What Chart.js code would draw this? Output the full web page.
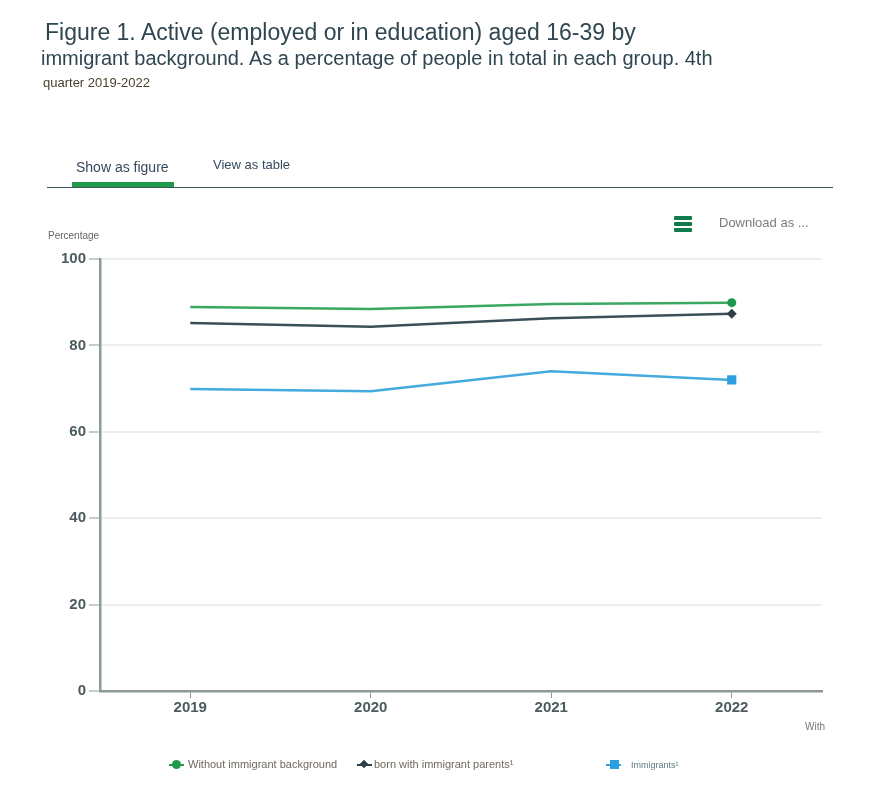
<!DOCTYPE html>
<html>
<head>
<meta charset="utf-8">
<script src="https://cdn.jsdelivr.net/npm/chart.js@4"></script>
<style>
  html, body { margin: 0; padding: 0; background: #fff; }
  body { width: 879px; height: 793px; position: relative; overflow: hidden; font-family: "Liberation Sans", Arial, sans-serif; }
  #chartWrap { position: absolute; left: 0; top: 0; width: 879px; height: 793px; }
  .txt { position: absolute; white-space: nowrap; line-height: 1; }
  .title1 { left: 45px; top: 21px; font-size: 23px; color: #2f4650; }
  .title2 { left: 41px; top: 48px; font-size: 20px; color: #2f4650; }
  .title3 { left: 43px; top: 76px; font-size: 13px; color: #4a3f2c; }
  .tab1 { left: 76px; top: 160px; font-size: 14px; color: #34495e; }
  .tab2 { left: 213px; top: 158px; font-size: 13px; color: #34495e; }
  .tabLine { position: absolute; left: 47px; top: 187px; width: 786px; height: 1px; background: #3f5358; }
  .tabActive { position: absolute; left: 72px; top: 182px; width: 102px; height: 5px; background: #1f9a4b; }
  .menu { position: absolute; left: 674px; width: 18px; height: 4px; background: #0f7a4a; border-radius: 1px; }
  .download { left: 719px; top: 216px; font-size: 13px; color: #7a7a7a; }
  .yTitle { left: 48px; top: 231px; font-size: 10px; color: #666; }
  .xNote { left: 805px; top: 722px; font-size: 10px; color: #777; }
  .legLine { position: absolute; height: 2px; width: 15px; top: 764px; }
  .legMark { position: absolute; }
</style>
</head>
<body>
<div id="chartWrap"><canvas id="activeChart"></canvas></div>

<div class="txt title1">Figure 1. Active (employed or in education) aged 16-39 by</div>
<div class="txt title2">immigrant background. As a percentage of people in total in each group. 4th</div>
<div class="txt title3">quarter 2019-2022</div>

<div class="txt tab1">Show as figure</div>
<div class="txt tab2">View as table</div>
<div class="tabLine"></div>
<div class="tabActive"></div>

<div class="menu" style="top:216px"></div>
<div class="menu" style="top:222px"></div>
<div class="menu" style="top:228px"></div>
<div class="txt download">Download as ...</div>

<div class="txt yTitle">Percentage</div>
<div class="txt xNote">With</div>

<div class="legLine" style="left:169px;background:#1f9a4b"></div>
<div class="legMark" style="left:172px;top:760px;width:9px;height:9px;border-radius:50%;background:#1f9a4b"></div>
<div class="txt" style="left:188px;top:759px;font-size:11px;color:#6f6a5c">Without immigrant background</div>

<div class="legLine" style="left:357px;background:#2f3f4a"></div>
<div class="legMark" style="left:361px;top:761px;width:6px;height:6px;transform:rotate(45deg);background:#2f3f4a"></div>
<div class="txt" style="left:374px;top:759px;font-size:11px;color:#6f6a5c">born with immigrant parents¹</div>

<div class="legLine" style="left:606px;background:#2b9fe0"></div>
<div class="legMark" style="left:610px;top:760px;width:9px;height:9px;background:#2b9fe0"></div>
<div class="txt" style="left:631px;top:761px;font-size:9px;color:#5f7a80">Immigrants¹</div>

<script>
// ── Data ──
const years = ['2019', '2020', '2021', '2022'];
const withoutBackground = [88.9, 88.4, 89.6, 89.9];
const bornToImmigrants = [85.2, 84.3, 86.3, 87.3];
const immigrants = [69.9, 69.4, 74.0, 72.0];
const yTicks = [0, 20, 40, 60, 80, 100];

// only the last point of each line carries a marker
const lastPoint = (size) => (c) => c.dataIndex === years.length - 1 ? size : 0;

function lineSet(label, data, color, lineColor, style, size) {
  return {
    label, data,
    borderColor: lineColor,
    backgroundColor: color,
    borderWidth: 2.5,
    tension: 0,
    pointStyle: style,
    pointBorderWidth: 0,
    pointRadius: lastPoint(size),
    pointHoverRadius: lastPoint(size)
  };
}

new Chart(document.getElementById('activeChart'), {
  type: 'line',
  data: {
    labels: years,
    datasets: [
      lineSet('Without immigrant background', withoutBackground, '#1f9a4b', '#3aa860', 'circle', 4.5),
      lineSet('born with immigrant parents¹', bornToImmigrants, '#2f3f4a', '#3c4f58', 'rectRot', 5),
      lineSet('Immigrants¹', immigrants, '#2b9fe0', '#45aade', 'rect', 6.5)
    ]
  },
  options: {
    responsive: true,
    maintainAspectRatio: false,
    animation: false,
    layout: { padding: { left: 0, right: 57, top: 259, bottom: 0 } },
    plugins: { legend: { display: false }, title: { display: false }, tooltip: { enabled: false } },
    scales: {
      x: {
        offset: true,
        afterFit: (s) => { s.height = 102; },
        border: { color: '#8c9a9a', width: 2.5 },
        grid: { drawOnChartArea: false, drawTicks: true, tickLength: 7, tickColor: '#8c9a9a', tickWidth: 1 },
        ticks: { color: '#4b5b5f', font: { family: 'Liberation Sans', size: 15, weight: 'bold' }, padding: 1, maxRotation: 0 }
      },
      y: {
        min: 0,
        max: 100,
        afterFit: (s) => { s.width = 100; },
        afterBuildTicks: (s) => { s.ticks = yTicks.map(v => ({ value: v })); },
        border: { color: '#8c9a9a', width: 2.5 },
        grid: { color: '#eeeeee', lineWidth: 2, tickLength: 11, tickColor: '#8c9a9a', tickWidth: 1 },
        ticks: { color: '#4b5b5f', font: { family: 'Liberation Sans', size: 15, weight: 'bold' }, padding: 3 }
      }
    }
  }
});
</script>
</body>
</html>
